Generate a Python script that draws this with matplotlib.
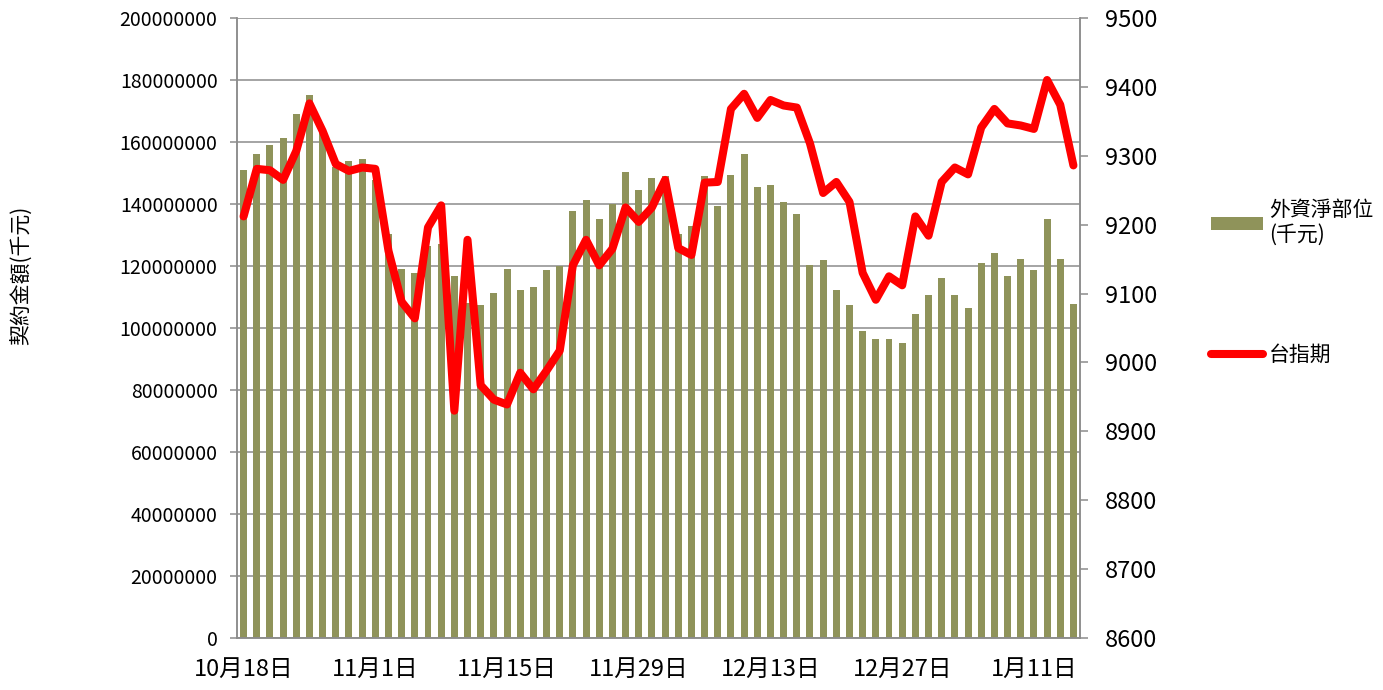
import matplotlib
matplotlib.use("Agg")
import matplotlib.pyplot as plt
import numpy as np

plt.rcParams['font.family'] = ['Noto Sans CJK TC', 'DejaVu Sans']

# 外資淨部位 (千元), read in millions
foreign_m = [150.9, 156.0, 158.9, 161.2, 168.9, 175.2, 163.0, 152.0, 153.9, 154.5,
             147.7, 130.2, 119.0, 117.6, 126.3, 127.0, 116.9, 108.0, 107.3, 111.2,
             119.0, 112.2, 113.2, 118.8, 120.0, 137.6, 141.3, 135.2, 139.9, 150.3,
             144.5, 148.3, 148.9, 130.2, 132.9, 148.9, 139.5, 149.2, 156.0, 145.4,
             146.2, 140.7, 136.8, 120.2, 122.0, 112.2, 107.3, 98.9, 96.5, 96.5,
             95.3, 104.6, 110.6, 116.1, 110.6, 106.5, 121.0, 124.2, 116.7, 122.3,
             118.6, 135.2, 122.2, 107.6]
foreign = [v * 1e6 for v in foreign_m]

# 台指期
taifex = [9212, 9281, 9279, 9265, 9307, 9376, 9336, 9288, 9278, 9283,
          9281, 9162, 9088, 9064, 9196, 9228, 8930, 9178, 8967, 8946,
          8939, 8985, 8961, 8988, 9017, 9141, 9178, 9141, 9165, 9225,
          9204, 9225, 9265, 9166, 9156, 9261, 9262, 9368, 9390, 9355,
          9381, 9373, 9370, 9318, 9246, 9262, 9233, 9130, 9091, 9125,
          9112, 9212, 9184, 9262, 9283, 9273, 9341, 9368, 9347, 9344,
          9339, 9410, 9374, 9286]

tick_pos = [0, 10, 20, 30, 40, 50, 60]
tick_labels = ['10月18日', '11月1日', '11月15日', '11月29日', '12月13日', '12月27日', '1月11日']

x = np.arange(len(foreign))
grid_c = '#8c8c8c'

fig = plt.figure(figsize=(13.83, 6.90), dpi=100)
ax = fig.add_axes([237/1383, 1 - 638/690, (1080 - 237)/1383, (638 - 18)/690])

bars = ax.bar(x, foreign, width=0.53, color='#8f935a', zorder=2)
ax.set_xlim(-0.5, len(foreign) - 0.5)
ax.set_ylim(0, 200000000)
ax.set_yticks(np.arange(0, 200000001, 20000000))
ax.set_yticklabels([str(v) for v in range(0, 200000001, 20000000)], fontsize=14)
ax.yaxis.grid(True, color=grid_c, linewidth=1.1)
ax.set_axisbelow(True)
ax.set_xticks(tick_pos)
ax.set_xticklabels(tick_labels, fontsize=17)
ax.tick_params(axis='x', length=0, pad=14)
ax.tick_params(axis='y', length=5, width=1.1, color=grid_c, pad=9)

ax2 = ax.twinx()
line, = ax2.plot(x, taifex, color='#ff0000', linewidth=5.8,
                 solid_joinstyle='round', solid_capstyle='round', zorder=3)
ax2.set_ylim(8600, 9500)
ax2.set_yticks(np.arange(8600, 9501, 100))
ax2.tick_params(axis='y', labelsize=17, length=6, width=1.1, color=grid_c, pad=12)

for a in (ax, ax2):
    for side in ('left', 'right', 'bottom'):
        a.spines[side].set_color(grid_c)
        a.spines[side].set_linewidth(1.1)
    a.spines['top'].set_visible(False)

fig.text(22/1383, 1 - 275/690, '契約金額(千元)', rotation=90, fontsize=15,
         ha='center', va='center')

fig.legend([bars, line], ['外資淨部位\n(千元)', '台指期'],
           loc='upper left', bbox_to_anchor=(1192/1383, 1 - 180/690),
           frameon=False, fontsize=15, handlelength=2.5, handletextpad=0.3,
           labelspacing=4.7, handleheight=0.55)

fig.savefig('out.png', dpi=100)
